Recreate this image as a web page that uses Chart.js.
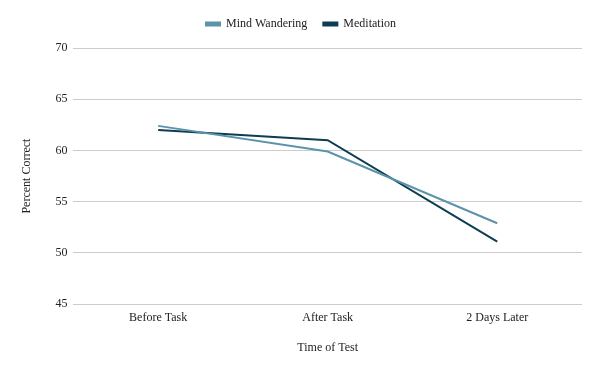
<!DOCTYPE html>
<html>
<head>
<meta charset="utf-8">
<script src="https://cdn.jsdelivr.net/npm/chart.js@4/dist/chart.umd.min.js"></script>
<style>
  html, body { margin: 0; padding: 0; background: #fff; }
  #wrap { width: 600px; height: 371px; }
</style>
</head>
<body>
<div id="wrap"><canvas id="chart"></canvas></div>
<script>
const CATEGORIES = ['Before Task', 'After Task', '2 Days Later'];
const MIND_WANDERING = [62.4, 59.9, 52.9];
const MEDITATION = [62.0, 61.0, 51.1];
const Y_TICKS = [45, 50, 55, 60, 65, 70];

const FONT = { family: '"Liberation Serif", "DejaVu Serif", serif', size: 12 };
const TEXT_COLOR = '#222';

function make_dataset(label, data, color) {
  return {
    label: label,
    data: data,
    borderColor: color,
    backgroundColor: color,
    borderWidth: 2,
    pointRadius: 0,
    tension: 0,
  };
}

// push the plot area a bit further below the legend
const legendGap = {
  id: 'legendGap',
  beforeInit(chart) {
    const fit = chart.legend.fit;
    chart.legend.fit = function () {
      fit.bind(chart.legend)();
      this.height += 8;
    };
  },
};

const CHART = new Chart(document.getElementById('chart'), {
  type: 'line',
  data: {
    labels: CATEGORIES,
    datasets: [
      make_dataset('Mind Wandering', MIND_WANDERING, '#5b93aa'),
      make_dataset('Meditation', MEDITATION, '#0e3d52'),
    ],
  },
  plugins: [legendGap],
  options: {
    responsive: true,
    maintainAspectRatio: false,
    animation: false,
    layout: {
      padding: { left: 20, right: 18, top: 2, bottom: 16 },
    },
    plugins: {
      tooltip: { enabled: false },
      legend: {
        position: 'top',
        labels: {
          font: FONT,
          color: TEXT_COLOR,
          boxWidth: 14,
          boxHeight: 3,
          padding: 16,
        },
      },
    },
    scales: {
      x: {
        offset: true,
        grid: { display: false, drawTicks: false },
        border: { display: false },
        ticks: { font: FONT, color: TEXT_COLOR, padding: 6, maxRotation: 0 },
        title: {
          display: true,
          text: 'Time of Test',
          font: FONT,
          color: TEXT_COLOR,
          padding: { top: 10, bottom: 0 },
        },
      },
      y: {
        min: 45,
        max: 70,
        afterBuildTicks: (axis) => {
          axis.ticks = Y_TICKS.map((v) => ({ value: v }));
        },
        grid: { color: '#cccccc', drawTicks: false, lineWidth: 1 },
        border: { display: false },
        ticks: { font: FONT, color: TEXT_COLOR, padding: 6 },
        title: {
          display: true,
          text: 'Percent Correct',
          font: FONT,
          color: TEXT_COLOR,
          padding: { top: 0, bottom: 15 },
        },
      },
    },
  },
});
</script>
</body>
</html>
